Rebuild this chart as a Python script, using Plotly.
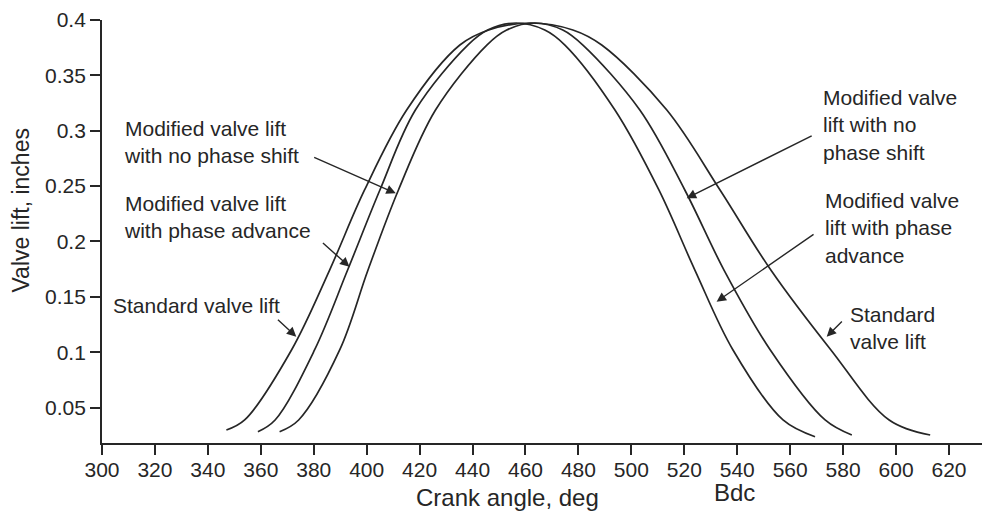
import plotly.graph_objects as go

# ---- data ----
std_angle = [347.0, 353.9, 371.6, 386.0, 399.2, 415.1, 435.2, 446.1, 462.0, 477.9, 488.8, 513.4, 533.5, 552.7, 575.4, 597.4, 612.9]
std_lift  = [0.0297, 0.0388, 0.102, 0.1742, 0.2465, 0.3187, 0.3774, 0.391, 0.3973, 0.391, 0.3774, 0.3187, 0.2465, 0.1742, 0.102, 0.0388, 0.0252]

adv_angle = [358.9, 365.4, 380.3, 392.8, 405.0, 418.4, 438.2, 445.7, 456.5, 467.3, 474.9, 493.8, 510.4, 524.0, 538.4, 557.3, 569.4]
adv_lift  = [0.0282, 0.0388, 0.102, 0.1742, 0.2465, 0.3187, 0.3774, 0.391, 0.3973, 0.391, 0.3774, 0.3187, 0.2465, 0.1742, 0.102, 0.0388, 0.0237]

nos_angle = [367.1, 374.3, 389.8, 400.5, 412.0, 426.0, 445.4, 452.9, 463.5, 474.1, 481.7, 503.2, 520.2, 535.0, 552.5, 573.2, 583.3]
nos_lift  = [0.0282, 0.0388, 0.102, 0.1742, 0.2465, 0.3187, 0.3774, 0.391, 0.3973, 0.391, 0.3774, 0.3187, 0.2465, 0.1742, 0.102, 0.0388, 0.0252]

x_ticks = [300, 320, 340, 360, 380, 400, 420, 440, 460, 480, 500, 520, 540, 560, 580, 600, 620]
y_ticks = [0.05, 0.1, 0.15, 0.2, 0.25, 0.3, 0.35, 0.4]
y_tick_text = ["0.05", "0.1", "0.15", "0.2", "0.25", "0.3", "0.35", "0.4"]

FONT = "Liberation Sans, Arial, Helvetica, sans-serif"
INK = "#262626"

fig = go.Figure()
for xs, ys in [(std_angle, std_lift), (adv_angle, adv_lift), (nos_angle, nos_lift)]:
    fig.add_trace(go.Scatter(x=xs, y=ys, mode="lines",
                             line=dict(color=INK, width=1.7, shape="spline", smoothing=1.0),
                             showlegend=False, hoverinfo="skip"))

labels = [
    # text, x, y, xanchor
    ("Modified valve lift<br>with no phase shift", 307.5, 0.2898, "left"),
    ("Modified valve lift<br>with phase advance", 307.5, 0.2221, "left"),
    ("Standard valve lift", 303.3, 0.1426, "left"),
    ("Modified valve<br>lift with no<br>phase shift", 571.6, 0.3052, "left"),
    ("Modified valve<br>lift with phase<br>advance", 572.5, 0.2122, "left"),
    ("Standard<br>valve lift", 581.7, 0.1223, "left"),
]
for t, x, y, xa in labels:
    fig.add_annotation(x=x, y=y, xref="x", yref="y", text=t, showarrow=False,
                       xanchor=xa, yanchor="middle", align="left",
                       font=dict(family=FONT, size=21, color=INK))

arrows = [
    # tip x, tip y, tail x, tail y
    (411.0, 0.2435, 379.6, 0.2765),
    (393.5, 0.1772, 382.9, 0.1998),
    (373.4, 0.1140, 365.9, 0.1306),
    (520.9, 0.2390, 568.7, 0.2961),
    (532.2, 0.1456, 569.4, 0.2074),
    (573.8, 0.1140, 580.1, 0.1291),
]
for x, y, ax, ay in arrows:
    fig.add_annotation(x=x, y=y, ax=ax, ay=ay, xref="x", yref="y", axref="x", ayref="y",
                       text="", showarrow=True, arrowhead=2, arrowsize=1.35,
                       arrowwidth=1.4, arrowcolor=INK, standoff=0)

fig.add_annotation(x=453.3, y=-0.1277, xref="x", yref="paper", text="Crank angle, deg",
                   showarrow=False, xanchor="center", yanchor="middle",
                   font=dict(family=FONT, size=24, color=INK))
fig.add_annotation(x=539, y=-0.117, xref="x", yref="paper", text="Bdc",
                   showarrow=False, xanchor="center", yanchor="middle",
                   font=dict(family=FONT, size=24, color=INK))
fig.add_annotation(x=-0.091, y=0.55, xref="paper", yref="paper", text="Valve lift, inches",
                   showarrow=False, textangle=-90, xanchor="center", yanchor="middle",
                   font=dict(family=FONT, size=23, color=INK))

# the page body has an 8px margin, so the figure is sized/offset to compensate
fig.update_layout(
    width=982, height=503,
    margin=dict(l=94, r=0, t=12, b=68, autoexpand=False),
    paper_bgcolor="white", plot_bgcolor="white",
    font=dict(family=FONT, size=21, color=INK),
)
fig.update_xaxes(range=[300, 635.5], tickvals=x_ticks, ticktext=[str(v) for v in x_ticks],
                 automargin=False, ticklabelstandoff=-3,
                 showgrid=False, zeroline=False, showline=True, linecolor=INK, linewidth=1.8,
                 ticks="outside", ticklen=10, tickwidth=1.6, tickcolor=INK,
                 tickfont=dict(family=FONT, size=21, color=INK))
fig.update_yaxes(range=[0.018, 0.4], tickvals=y_ticks, ticktext=y_tick_text,
                 automargin=False,
                 showgrid=False, zeroline=False, showline=True, linecolor=INK, linewidth=1.8,
                 ticks="outside", ticklen=10, tickwidth=1.6, tickcolor=INK,
                 tickfont=dict(family=FONT, size=21, color=INK))

fig.write_html("out.html")
